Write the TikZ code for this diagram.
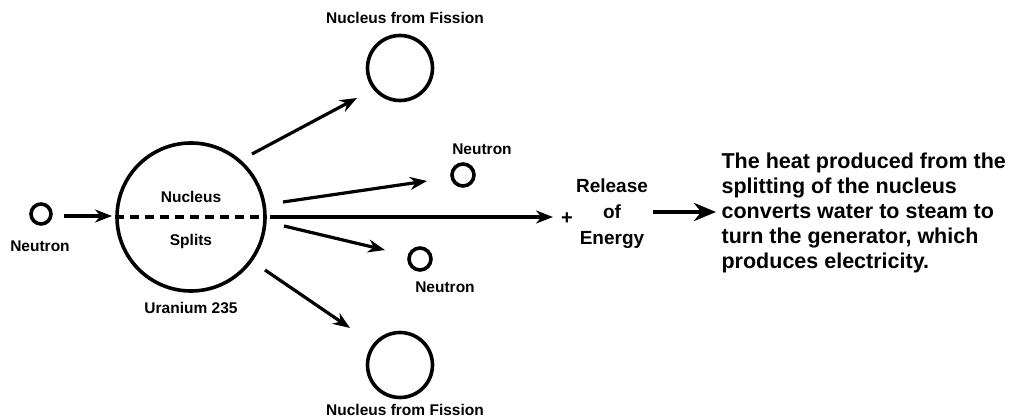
\documentclass[tikz,border=0pt]{standalone}
\usepackage{fontspec}
\setmainfont{Liberation Sans}
\usetikzlibrary{arrows.meta}
\begin{document}
\begin{tikzpicture}[x=1pt,y=-1pt,
  line width=3.2pt,
  particle/.style={circle,draw,line width=3.6pt,inner sep=0pt},
  lbl/.style={font=\bfseries\fontsize{15.5}{17}\selectfont,inner sep=0pt},
  arr/.style={-{Stealth[length=17pt,width=13pt]},line width=3.2pt},
  bigarr/.style={-{Stealth[length=22pt,width=18pt]},line width=4.2pt},
  para/.style={font=\bfseries\fontsize{21.5}{25}\selectfont,align=left,anchor=west,inner sep=0pt}]
\useasboundingbox (0,0) rectangle (1013,419);
% incoming neutron
\node[particle,minimum size=20pt] (n0) at (41,214) {};
\node[lbl] (n0l) at (40,246) {Neutron};
% uranium nucleus
\node[particle,minimum size=148pt] (U) at (191,217) {};
\node[lbl] (Ut) at (191,197) {Nucleus};
\node[lbl] (Ub) at (191,241) {Splits};
\node[lbl] (Ul) at (191,308) {Uranium 235};
\draw[dash pattern=on 9pt off 6pt,line width=3.4pt] (U.west) -- (U.east);
\coordinate (a0s) at (64,216); \coordinate (a0e) at (112,216);
\draw[arr] (a0s) -- (a0e);
% fission fragments
\node[particle,minimum size=65pt] (F1) at (400,68) {};
\node[lbl] (F1l) at (405,18) {Nucleus from Fission};
\node[particle,minimum size=65pt] (F2) at (400,365) {};
\node[lbl] (F2l) at (405,410) {Nucleus from Fission};
% released neutrons
\node[particle,minimum size=22pt] (N1) at (463,175) {};
\node[lbl] (N1l) at (482,149) {Neutron};
\node[particle,minimum size=22pt] (N2) at (420,259) {};
\node[lbl] (N2l) at (445,287) {Neutron};
% arrows from nucleus
\coordinate (a1s) at (252,154); \coordinate (a1e) at (357,98);
\coordinate (a2s) at (283,202); \coordinate (a2e) at (427,181);
\coordinate (a3s) at (270,217); \coordinate (a3e) at (553,217);
\coordinate (a4s) at (284,226); \coordinate (a4e) at (385,250);
\coordinate (a5s) at (265,270); \coordinate (a5e) at (350,328);
\draw[arr] (a1s) -- (a1e);
\draw[arr] (a2s) -- (a2e);
\draw[arr] (a3s) -- (a3e);
\draw[arr] (a4s) -- (a4e);
\draw[arr] (a5s) -- (a5e);
% energy
\node[lbl,font=\bfseries\fontsize{20}{20}\selectfont] (plus) at (567,219) {+};
\node[lbl,font=\bfseries\fontsize{19}{26}\selectfont,align=center] (E) at (612,214) {Release\\of\\Energy};
\coordinate (b1) at (653,212); \coordinate (b2) at (716,212);
\draw[bigarr] (b1) -- (b2);
\node[para] (P) at (720,213) {The heat produced from the\\splitting of the nucleus\\converts water to steam to\\turn the generator, which\\produces electricity.};
\end{tikzpicture}
\end{document}
